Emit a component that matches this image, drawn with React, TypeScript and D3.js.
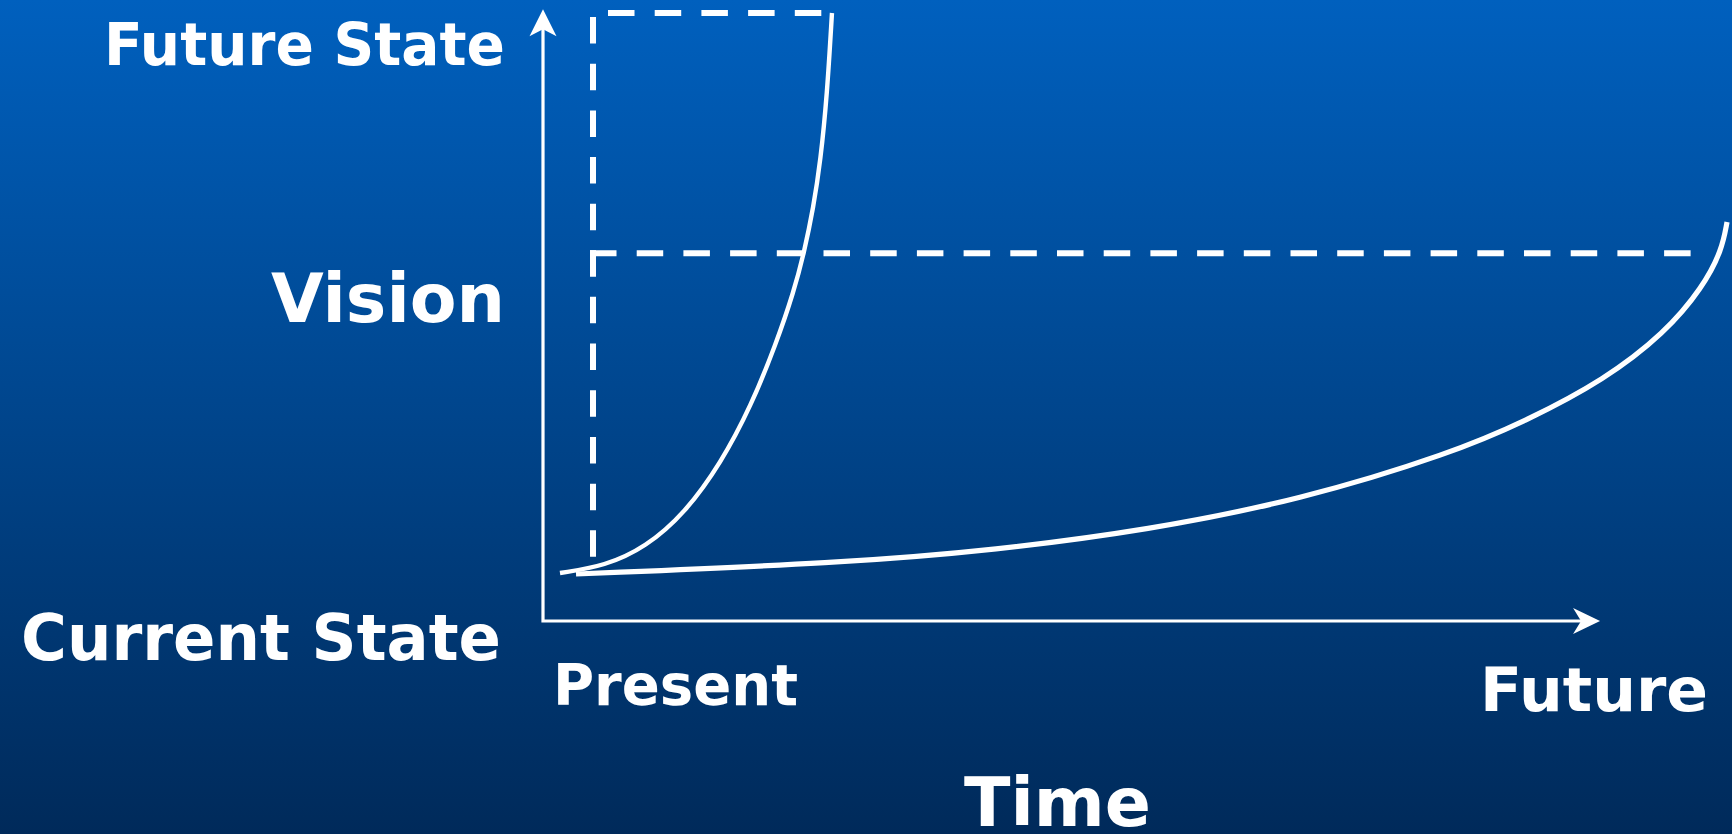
import React from "react";
import * as d3 from "d3";

// ---- data (chart units: time 0..100 on the x axis, state 0..100 on the y axis)
const levelNames = ["Current State", "Vision", "Future State"];
const levelValues = [7.9, 60.5, 100];
const timeNames = ["Present", "Future"];
const axisTitle = "Time";
const presentTime = 4.74;

// fast, steep path (rapid change)
const steepTime = [1.61, 5.88, 9.76, 13.46, 16.87, 19.72, 22.09, 23.79, 24.74, 25.64, 26.3, 26.92, 27.39];
const steepState = [7.89, 9.05, 12.17, 17.76, 25.99, 35.36, 45.56, 54.28, 60.53, 68.09, 75.66, 86.35, 100];

// slow, gradual path
const slowTime = [3.13, 28.53, 42.94, 57.35, 71.75, 86.16, 93.36, 100.57, 106.35, 109.95, 111.75, 112.23];
const slowState = [7.73, 9.54, 11.68, 14.97, 19.9, 27.63, 33.06, 39.64, 47.37, 54.93, 61.02, 65.63];

const visionEndTime = 109.9;
const futureDashEndTime = 26.5;

const W = 1732;
const H = 834;

export default function App() {
  const x = d3.scaleLinear().domain([0, 100]).range([543, 1598]);
  const y = d3.scaleLinear().domain([0, 100]).range([621, 13]);

  const line = d3
    .line<[number, number]>()
    .x((d) => x(d[0]))
    .y((d) => y(d[1]))
    .curve(d3.curveBasis);

  const steep = steepTime.map((t, i) => [t, steepState[i]] as [number, number]);
  const slow = slowTime.map((t, i) => [t, slowState[i]] as [number, number]);

  const x0 = x(0);
  const y0 = y(0);
  const yTop = y(100.3);
  const xEnd = x(100.1);

  const px = x(presentTime);
  const yCur = y(levelValues[0]);
  const yVis = y(levelValues[1]);
  const yFut = y(levelValues[2]);

  const font = "'DejaVu Sans', Verdana, sans-serif";
  const labelStyle = { fill: "#ffffff", fontFamily: font, fontWeight: 700 } as const;

  const dash = "26.5 20.2";

  return (
    <svg width={W} height={H} style={{ position: "fixed", left: 0, top: 0 }}>
      <defs>
        <linearGradient id="bg" x1="0" y1="0" x2="0" y2="1">
          <stop offset="0" stopColor="#0060be" />
          <stop offset="1" stopColor="#002a5a" />
        </linearGradient>
      </defs>
      <rect x={0} y={0} width={W} height={H} fill="url(#bg)" />

      {/* dashed guides */}
      <line x1={px} y1={yFut + 4} x2={px} y2={yVis - 23} stroke="#fff" strokeWidth={6} strokeDasharray={dash} />
      <line x1={px + 15} y1={yFut} x2={x(futureDashEndTime)} y2={yFut} stroke="#fff" strokeWidth={6} strokeDasharray={dash} />
      <line x1={px - 3} y1={yVis} x2={x(visionEndTime)} y2={yVis} stroke="#fff" strokeWidth={6} strokeDasharray={dash} />
      <line x1={px} y1={yVis - 3} x2={px} y2={yCur - 10} stroke="#fff" strokeWidth={6} strokeDasharray={dash} />

      {/* axes */}
      <polyline points={`${x0},${yTop + 10} ${x0},${y0} ${xEnd - 10},${y0}`} fill="none" stroke="#fff" strokeWidth={3.2} />
      <path
        d={`M${x0},${yTop - 2} L${x0 + 13.5},${yTop + 25} L${x0},${yTop + 18} L${x0 - 13.5},${yTop + 25} Z`}
        fill="#fff"
      />
      <path
        d={`M${xEnd + 1},${y0} L${xEnd - 26},${y0 - 13} L${xEnd - 18},${y0} L${xEnd - 26},${y0 + 13} Z`}
        fill="#fff"
      />

      {/* paths */}
      <path d={line(steep) || ""} fill="none" stroke="#fff" strokeWidth={4.4} />
      <path d={line(slow) || ""} fill="none" stroke="#fff" strokeWidth={5.2} />

      {/* labels */}
      <text x={104} y={65} fontSize={58} textLength={401} lengthAdjust="spacingAndGlyphs" style={labelStyle}>
        {levelNames[2]}
      </text>
      <text x={271} y={322} fontSize={68} textLength={234} lengthAdjust="spacingAndGlyphs" style={labelStyle}>
        {levelNames[1]}
      </text>
      <text x={21} y={660} fontSize={64} textLength={480} lengthAdjust="spacingAndGlyphs" style={labelStyle}>
        {levelNames[0]}
      </text>
      <text x={553} y={705} fontSize={57} textLength={245} lengthAdjust="spacingAndGlyphs" style={labelStyle}>
        {timeNames[0]}
      </text>
      <text x={1480} y={711} fontSize={61} textLength={228} lengthAdjust="spacingAndGlyphs" style={labelStyle}>
        {timeNames[1]}
      </text>
      <text x={964} y={826} fontSize={67} textLength={187} lengthAdjust="spacingAndGlyphs" style={labelStyle}>
        {axisTitle}
      </text>
    </svg>
  );
}
